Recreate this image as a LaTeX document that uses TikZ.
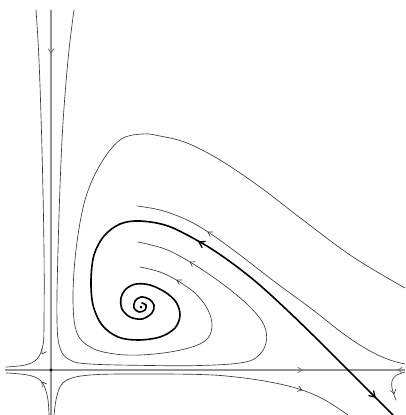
\documentclass[tikz,border=0pt]{standalone}
\tikzset{
  traj/.style={draw=black!78, line width=0.65pt, line cap=round},
  axisline/.style={draw=black!42, line width=1.35pt},
  sepline/.style={draw=black, line width=1.6pt, line cap=round, line join=round},
  thinhead/.style={draw=black!78, line width=0.65pt},
  axishead/.style={draw=black!58, line width=0.75pt},
  thickhead/.style={draw=black, line width=1.3pt, scale=1.25},
  head/.pic={\draw[pic actions, line cap=round, line join=round] (-4.2,2.7) -- (0,0) -- (-4.2,-2.7);},
}
\begin{document}
\begin{tikzpicture}[x=1pt,y=1pt,yscale=-1]
\path[use as bounding box, clip] (0,0) rectangle (405,415);
% axes
\draw[axisline] (5,370) -- (405,370);
\draw[axisline] (51,10) -- (51,415);
% saddle trajectories near origin
\draw[traj] plot[smooth, tension=0.6] coordinates {(36,10) (39,60) (42,150) (44,250) (44,320) (43,345) (37,359) (25,365) (6,367)};
\draw[traj] plot[smooth, tension=0.6] coordinates {(49,415) (48,400) (45,388) (40,380) (30,375.5) (15,373.5) (6,373)};
\draw[traj] plot[smooth, tension=0.6] coordinates {(54,415) (56,400) (60,387) (68,379.5) (85,375.5) (120,374) (200,374.5) (240,377.5) (275,383) (302,390) (325,400) (348,415)};
% c2 (from top, along axis, up to spiral region)
\draw[traj] plot[smooth, tension=0.6] coordinates {(74,10) (68,60) (62,140) (58,250) (57,320) (60,348) (70,360) (90,364) (150,365.5) (200,365.5) (240,363) (257,357) (266,343) (264,325) (248,305) (220,282) (190,262) (165,249) (138,242)};
% outer big trajectory (c3)
\draw[traj] plot[smooth, tension=0.6] coordinates {(405,288) (353,257) (303,220) (260,187) (220,160) (187,143) (160,136) (142,134) (120,140) (100,165) (85,200) (76,250) (73,300) (77,333) (92,348) (115,354) (140,355) (170,352) (195,346) (208,338) (212,325) (208,310) (196,294) (178,281) (160,272) (140,267)};
% c1
\draw[traj] plot[smooth, tension=0.6] coordinates {(137,206) (160,210) (185,219) (208,232) (240,255) (275,282) (313,310) (345,335) (370,351) (390,360) (405,364)};
% right edge trajectory
\draw[traj] plot[smooth, tension=0.6] coordinates {(405,372) (396,375.5) (392,381) (392,388) (394,395) (396,400)};
% thick separatrix and spiral
\draw[sepline] plot[smooth, tension=0.55] coordinates {(393,415) (348,370) (320,342) (287,310) (255,281) (225,258) (200,242) (168,226) (140,221) (120,224) (104,236) (94,255) (91,280) (93,305) (102,325) (118,337) (138,340) (160,337) (175,328) (180,315) (176,302) (165,292) (150,285) (136,284) (126,289) (121,298) (122,309) (130,317) (142,319) (152,313) (154,305) (149,299) (141,297) (135,301) (134,308) (139,312) (145,310) (146,305) (142,303)};
% dots
\fill (51,370) circle (1.7);
\fill (141,307) circle (1.5);
% arrowheads (screen angles negated because of yscale=-1)
\pic[axishead, rotate=-90] at (51,53) {head};
\pic[axishead, rotate=0] at (302,370) {head};
\pic[axishead, rotate=180] at (398,370) {head};
\pic[thinhead, rotate=-120] at (42,354) {head};
\pic[thinhead, rotate=-235] at (42,382) {head};
\pic[thinhead, rotate=-212] at (208,232) {head};
\pic[thinhead, rotate=-210] at (190,262) {head};
\pic[thinhead, rotate=-212] at (177,280) {head};
\pic[thinhead, rotate=-18] at (302,390) {head};
\pic[thinhead, rotate=-78] at (394,394) {head};
\pic[thickhead, rotate=-208] at (199,242) {head};
\pic[thickhead, rotate=-45] at (375,397) {head};
\end{tikzpicture}
\end{document}
